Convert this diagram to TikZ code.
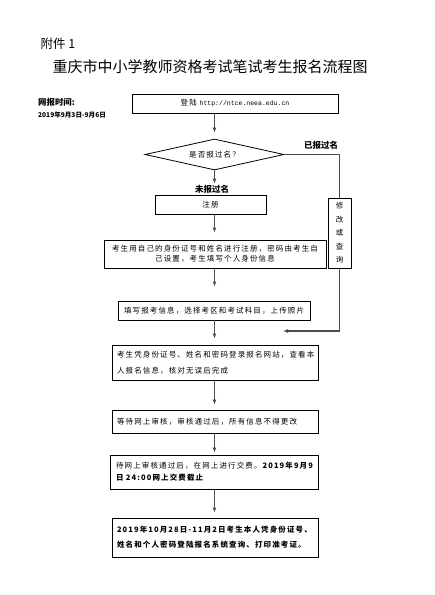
\documentclass[tikz,border=0pt]{standalone}
\usepackage{fontspec}
\setmainfont{Noto Sans CJK SC}
\setmonofont{Liberation Mono}
\newfontfamily\spaced[LetterSpace=15]{Noto Sans CJK SC}
\usetikzlibrary{arrows.meta, positioning, shapes.geometric}
\tikzset{
  flow/.style={draw=black!70, line width=1.1pt, -{Latex[length=5pt,width=4pt]}}, % the down arrows
  plain/.style={draw=black!70, line width=1.1pt}, % lines with no head
  box/.style={draw, line width=0.8pt, inner sep=0pt,
    font=\spaced\fontsize{7.5}{10}\selectfont}, % every step box
  tag/.style={font=\bfseries\fontsize{8.5}{10}\selectfont, inner sep=1pt}, % branch labels
}

\begin{document}
\begin{tikzpicture}[x=1pt, y=-1pt,
  decision/.style={draw, diamond, aspect=4.5, line width=0.8pt, inner sep=0pt,
    minimum width=139pt, minimum height=31pt,
    font=\spaced\fontsize{7.5}{10}\selectfont}]
    \useasboundingbox (0,0) rectangle (435,595);

    \node[anchor=west, font=\fontsize{12.5}{14}\selectfont] (annex) at (37,44) {附件 1};
    \node[anchor=west, font=\fontsize{15}{17}\selectfont] (title) at (49,67)
      {重庆市中小学教师资格考试笔试考生报名流程图};
    \node[anchor=west, font=\bfseries\fontsize{8.4}{10}\selectfont, inner sep=0pt] (when) at (38,102) {网报时间:};
    \node[anchor=west, font=\bfseries\fontsize{6.6}{8}\selectfont, inner sep=0pt] (dates) at (38,115)
      {2019年9月3日-9月6日};

    \node[box, minimum width=206pt, minimum height=19pt] (login) at (235,103.5)
      {登陆 {\ttfamily\fontsize{6.5}{8}\selectfont http://ntce.neea.edu.cn}};
    \node[decision] (check) at (214.5,154.5) {是否报过名？};
    \node[tag] (done) at (321,145) {已报过名};
    \node[tag] (notyet) at (212,189) {未报过名};
    \node[box, minimum width=111pt, minimum height=19pt] (register) at (210.5,204.5) {注册};
    \node[box, minimum width=23pt, minimum height=70pt, align=center,
      font=\spaced\fontsize{7.5}{13.5}\selectfont] (modify) at (339.5,233)
      {修\\改\\或\\查\\询};
    \node[box, minimum width=222pt, minimum height=28pt, align=center] (idinfo) at (215,254)
      {考生用自己的身份证号和姓名进行注册，密码由考生自\\己设置，考生填写个人身份信息};
    \node[box, minimum width=192pt, minimum height=19pt] (apply) at (214,310.5)
      {填写报考信息，选择考区和考试科目，上传照片};
    \node[box, minimum width=206pt, minimum height=35pt, text width=196pt, align=left,
      font=\spaced\fontsize{7.5}{16}\selectfont] (confirm) at (215,362.5)
      {考生凭身份证号、姓名和密码登录报名网站，查看本\\人报名信息，核对无误后完成};
    \node[box, minimum width=206pt, minimum height=23pt, text width=196pt, align=left] (review) at (215,421.5)
      {等待网上审核，审核通过后，所有信息不得更改};
    \node[box, minimum width=208pt, minimum height=34pt, text width=196pt, align=left,
      font=\spaced\fontsize{7.5}{12}\selectfont] (pay) at (214,472)
      {待网上审核通过后，在网上进行交费。\textbf{2019年9月9}\\\textbf{日 24:00网上交费截止}};
    \node[box, minimum width=206pt, minimum height=39pt, text width=196pt, align=left,
      font=\spaced\bfseries\fontsize{7.5}{15}\selectfont] (ticket) at (215,537.5)
      {2019年10月28日-11月2日考生本人凭身份证号、\\姓名和个人密码登陆报名系统查询、打印准考证。};
    \coordinate (back) at (283,331);

    \draw[flow, shorten >=6pt] (login.south -| check.north) -- (check.north);
    \draw[flow] (check.south) -- (check.south |- notyet.north);
    \draw[flow, shorten >=7pt] (register.south -| check.south) -- (idinfo.north -| check.south);
    \draw[flow, shorten >=14pt] (idinfo.south -| check.south) -- (apply.north -| check.south);
    \draw[flow, shorten >=6pt] (apply.south -| check.south) -- (confirm.north -| check.south);
    \draw[flow, shorten >=5pt] (confirm.south -| check.south) -- (review.north -| check.south);
    \draw[flow, shorten >=2pt] (review.south -| check.south) -- (pay.north -| check.south);
    \draw[flow, shorten >=5pt] (pay.south -| check.south) -- (ticket.north -| check.south);
    \draw[plain] (check.east) -| (modify.north);
    \draw[flow] (modify.south) |- (back);
  \end{tikzpicture}
\end{document}
